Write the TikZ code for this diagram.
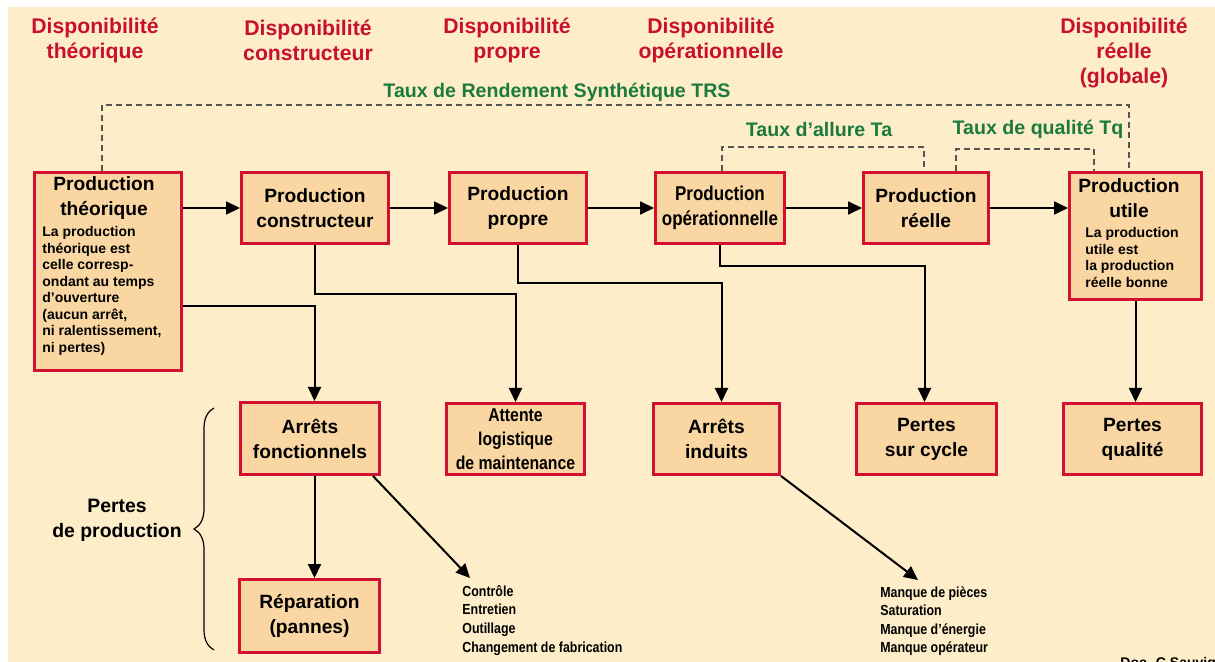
\documentclass[tikz,border=0pt]{standalone}
\usepackage{fontspec}
\setmainfont{Liberation Sans}
\newfontfamily\condfont[FakeStretch=0.85]{Liberation Sans}
\usetikzlibrary{arrows.meta,decorations.pathreplacing}
\definecolor{cream}{HTML}{FDEDC8}
\definecolor{peach}{HTML}{FAD7A2}
\definecolor{boxred}{HTML}{D21034}
\definecolor{headred}{HTML}{C8102E}
\definecolor{trsgreen}{HTML}{1B7A3E}
\definecolor{dashgray}{HTML}{555555}
\begin{document}
\begin{tikzpicture}[x=0.5pt,y=-0.5pt,
  box/.style={draw=boxred,line width=1.5pt,fill=peach,inner sep=0pt,align=center,anchor=north west,
    font=\bfseries\fontsize{9.6}{12.5}\selectfont},
  condbox/.style={box,font=\condfont\bfseries\fontsize{10}{12.5}\selectfont},
  head/.style={text=headred,align=center,inner sep=0pt,font=\bfseries\fontsize{10.6}{12.5}\selectfont},
  glabel/.style={text=trsgreen,inner sep=0pt,font=\bfseries\fontsize{9.8}{12}\selectfont},
  desc/.style={inner sep=0pt,align=left,anchor=north west,font=\bfseries\fontsize{7}{8.25}\selectfont},
  listtxt/.style={inner sep=0pt,align=left,anchor=north west,font=\condfont\bfseries\fontsize{7.3}{9.3}\selectfont},
  flow/.style={line width=1pt,-{Triangle[length=7pt,width=6.5pt]}},
  link/.style={line width=1pt},
  dline/.style={line width=1pt,dashgray,dash pattern=on 3pt off 2pt}
]
\useasboundingbox (0,0) rectangle (1215,662);
\clip (0,0) rectangle (1215,662);
\fill[white] (0,0) rectangle (1215,662);
\fill[cream] (8,7) rectangle (1215,662);

% headers
\node[head] (h1) at (95,40.5) {Disponibilité\\théorique};
\node[head] (h2) at (308,40.5) {Disponibilité\\constructeur};
\node[head] (h3) at (507,40.5) {Disponibilité\\propre};
\node[head] (h4) at (711,40.5) {Disponibilité\\opérationnelle};
\node[head] (h5) at (1124,53) {Disponibilité\\réelle\\(globale)};

% green labels
\node[glabel] (trs) at (557,92) {Taux de Rendement Synthétique TRS};
\node[glabel] (ta) at (819,129) {Taux d’allure Ta};
\node[glabel] (tq) at (1038,129) {Taux de qualité Tq};

% top row boxes
\node[box,minimum width=73.5pt,minimum height=99pt] (b1) at (33,171) {};
\node[box,minimum width=73.5pt,minimum height=35.5pt] (b2) at (240,171) {Production\\constructeur};
\node[box,minimum width=68.5pt,minimum height=35.5pt] (b3) at (448,171) {Production\\propre};
\node[condbox,minimum width=64.5pt,minimum height=35.5pt] (b4) at (654,171) {Production\\opérationnelle};
\node[box,minimum width=62.5pt,minimum height=35.5pt] (b5) at (862,171) {Production\\réelle};
\node[box,minimum width=66pt,minimum height=63.5pt] (b6) at (1068,171) {};

\node[inner sep=0pt,align=center,font=\bfseries\fontsize{9.6}{12.5}\selectfont] (t1) at (104,198.5) {Production\\théorique};
\node[desc] (d1) at (42,226) {La production\\théorique est\\celle corresp-\\ondant au temps\\d’ouverture\\(aucun arrêt,\\ni ralentissement,\\ni pertes)};
\node[inner sep=0pt,align=center,font=\bfseries\fontsize{9.6}{12.5}\selectfont] (t6) at (1129,198.5) {Production\\utile};
\node[desc] (d6) at (1085,227) {La production\\utile est\\la production\\réelle bonne};

% bottom boxes
\node[box,minimum width=69.5pt,minimum height=36pt] (b7) at (239,401) {Arrêts\\fonctionnels};
\node[condbox,font=\condfont\bfseries\fontsize{9.3}{12}\selectfont,minimum width=69pt,minimum height=35.5pt] (b8) at (445,402) {Attente\\logistique\\de maintenance};
\node[box,minimum width=63pt,minimum height=35.5pt] (b9) at (652,402) {Arrêts\\induits};
\node[box,minimum width=70pt,minimum height=35.5pt] (b10) at (855,402) {Pertes\\sur cycle};
\node[box,minimum width=69pt,minimum height=35.5pt] (b11) at (1062,402) {Pertes\\qualité};
\node[box,minimum width=70pt,minimum height=36.5pt] (b12) at (238,578) {Réparation\\(pannes)};

% lists
\node[listtxt] (l1) at (462,585) {Contrôle\\Entretien\\Outillage\\Changement de fabrication};
\node[listtxt] (l2) at (880,586) {Manque de pièces\\Saturation\\Manque d’énergie\\Manque opérateur};
\coordinate (l1tip) at (470,578);
\coordinate (l2tip) at (918,580);

% pertes de production + brace
\node[inner sep=0pt,align=center,font=\bfseries\fontsize{9.7}{12.5}\selectfont] (pp) at (117,520.5) {Pertes\\de production};
\draw[line width=0.6pt,decorate,decoration={brace,amplitude=10pt}] (214,650) -- (214,408);

% top row arrows
\draw[flow] (b1.east |- b2.west) -- (b2.west);
\draw[flow] (b2.east) -- (b3.west);
\draw[flow] (b3.east) -- (b4.west);
\draw[flow] (b4.east) -- (b5.west);
\draw[flow] (b5.east) -- (b6.west |- b5.east);

% downward connectors
\draw[flow] ([yshift=-17.5pt]b1.east) -| ([xshift=2.25pt]b7.north);
\draw[flow] (b2.south) -- ++(0,49) -| (b8.north);
\draw[flow] (b3.south) -- ++(0,38) -| ([xshift=2.5pt]b9.north);
\draw[flow] (b4.south) -- ++(0,21) -| ([xshift=-1pt]b10.north);
\draw[flow] (b6.south) -- (b6.south |- b11.north);
\draw[flow] ([xshift=2.25pt]b7.south) -- ([xshift=2.25pt]b7.south |- b12.north);
\draw[flow] ([xshift=-4pt]b7.south east) -- (l1tip);
\draw[flow] ([xshift=0pt]b9.south east) -- (l2tip);

% dashed lines
\draw[dline] ([xshift=-3.25pt]b1.north) -- ++(0,-66) -| ([xshift=-3.5pt]b6.north);
\draw[dline] ([xshift=1pt]b4.north) -- ++(0,-24) -| ([xshift=-1pt]b5.north);
\draw[dline] ([xshift=15pt]b5.north) -- ++(0,-22) -| ([xshift=-21pt]b6.north);

% credit (cut at the bottom edge)
\node[anchor=base west,inner sep=0pt,font=\bfseries\fontsize{7}{8}\selectfont] (doc) at (1120,667) {Doc. C Sauvigne};
\end{tikzpicture}
\end{document}
